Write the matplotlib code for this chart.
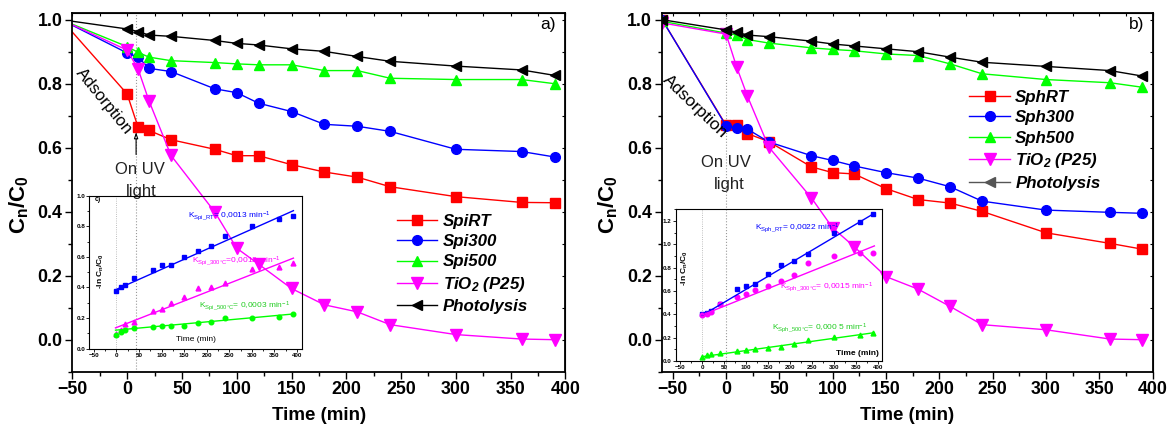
import matplotlib
matplotlib.use("Agg")
import matplotlib.pyplot as plt
from matplotlib.ticker import MultipleLocator

plt.rcParams['font.family'] = ['Liberation Sans', 'DejaVu Sans']
plt.rcParams['mathtext.fontset'] = 'custom'
plt.rcParams['mathtext.rm'] = 'Liberation Sans'
plt.rcParams['mathtext.it'] = 'Liberation Sans:italic'
plt.rcParams['mathtext.bf'] = 'Liberation Sans:bold'

# ---------------- data ----------------
t = [-60, 0, 10, 20, 40, 80, 100, 120, 150, 180, 210, 240, 300, 360, 390]

spi_rt = [1.0, 0.768, 0.664, 0.654, 0.625, 0.595, 0.575, 0.575, 0.547, 0.524, 0.508, 0.478, 0.447, 0.429, 0.428]
spi300 = [1.0, 0.896, 0.883, 0.848, 0.838, 0.784, 0.772, 0.739, 0.713, 0.673, 0.667, 0.651, 0.595, 0.588, 0.571]
spi500 = [1.0, 0.916, 0.898, 0.883, 0.872, 0.866, 0.862, 0.859, 0.859, 0.841, 0.841, 0.817, 0.813, 0.813, 0.800]
tio2_a = [1.0, 0.905, 0.846, 0.746, 0.576, 0.399, 0.286, 0.236, 0.160, 0.109, 0.087, 0.047, 0.016, 0.002, 0.0]
photo_a = [1.0, 0.971, 0.963, 0.952, 0.948, 0.935, 0.926, 0.921, 0.909, 0.901, 0.885, 0.870, 0.855, 0.843, 0.826]

sph_rt = [1.0, 0.670, 0.670, 0.644, 0.619, 0.540, 0.522, 0.518, 0.472, 0.438, 0.427, 0.401, 0.334, 0.301, 0.283]
sph300 = [1.0, 0.668, 0.662, 0.658, 0.618, 0.575, 0.560, 0.543, 0.522, 0.505, 0.478, 0.433, 0.405, 0.398, 0.395]
sph500 = [0.995, 0.958, 0.952, 0.938, 0.927, 0.912, 0.907, 0.903, 0.893, 0.888, 0.862, 0.831, 0.813, 0.803, 0.789]
tio2_b = [0.99, 0.955, 0.851, 0.761, 0.602, 0.443, 0.349, 0.291, 0.197, 0.158, 0.104, 0.047, 0.031, 0.002, 0.0]
photo_b = [1.0, 0.968, 0.961, 0.952, 0.947, 0.933, 0.924, 0.918, 0.909, 0.900, 0.883, 0.867, 0.854, 0.841, 0.824]

labels_a = ['SpiRT', 'Spi300', 'Spi500', r'TiO$_\mathregular{2}$ (P25)', 'Photolysis']
labels_b = ['SphRT', 'Sph300', 'Sph500', r'TiO$_\mathregular{2}$ (P25)', 'Photolysis']

# inset kinetics  (-ln Cn/C0)
ti = [0, 10, 20, 40, 80, 100, 120, 150, 180, 210, 240, 300, 360, 390]
ln_spi_rt = [0.378, 0.406, 0.417, 0.465, 0.512, 0.549, 0.549, 0.599, 0.638, 0.672, 0.735, 0.802, 0.846, 0.870]
ln_spi300 = [0.093, 0.121, 0.162, 0.175, 0.244, 0.259, 0.298, 0.335, 0.396, 0.404, 0.428, 0.519, 0.532, 0.562]
ln_spi500 = [0.089, 0.110, 0.123, 0.136, 0.145, 0.149, 0.149, 0.151, 0.169, 0.173, 0.201, 0.203, 0.205, 0.225]
fit_t_a = [-2, 392]
fit_spi_rt = [0.385, 0.902]
fit_spi300 = [0.136, 0.592]
fit_spi500 = [0.121, 0.227]

ln_sph_rt = [0.400, 0.409, 0.429, 0.486, 0.614, 0.646, 0.657, 0.746, 0.820, 0.854, 0.914, 1.094, 1.194, 1.257]
ln_sph300 = [0.394, 0.403, 0.420, 0.486, 0.551, 0.574, 0.609, 0.646, 0.683, 0.734, 0.837, 0.900, 0.923, 0.929]
ln_sph500 = [0.037, 0.049, 0.060, 0.071, 0.089, 0.094, 0.103, 0.114, 0.123, 0.146, 0.180, 0.209, 0.220, 0.237]
fit_t_b = [0, 392]
fit_sph_rt = [0.391, 1.266]
fit_sph300 = [0.394, 0.986]
fit_sph500 = [0.037, 0.243]

k_a = [r'K$_\mathregular{Spi\_RT}$= 0,0013 min$^\mathregular{-1}$',
       r'K$_\mathregular{Spi\_300°C}$=0,0012 min$^\mathregular{-1}$',
       r'K$_\mathregular{Spi\_500°C}$= 0,0003 min$^\mathregular{-1}$']
k_b = [r'K$_\mathregular{Sph\_RT}$= 0,0022 min$^\mathregular{-1}$',
       r'K$_\mathregular{Sph\_300°C}$= 0,0015 min$^\mathregular{-1}$',
       r'K$_\mathregular{Sph\_500°C}$= 0,000 5 min$^\mathregular{-1}$']

RED, BLUE, GREEN, MAG, BLK = '#ff0000', '#0000ff', '#00ff00', '#ff00ff', '#000000'

fig = plt.figure(figsize=(11.72, 4.36), dpi=100)
axA = fig.add_axes([0.0617, 0.1475, 0.4208, 0.822])
axB = fig.add_axes([0.5645, 0.1475, 0.4190, 0.822])


def style_main(ax, xlim):
    ax.set_xlim(*xlim)
    ax.set_ylim(-0.1, 1.02)
    ax.set_xticks(range(-50, 401, 50))
    ax.set_yticks([0.0, 0.2, 0.4, 0.6, 0.8, 1.0])
    ax.set_yticklabels(['0.0', '0.2', '0.4', '0.6', '0.8', '1.0'])
    ax.xaxis.set_minor_locator(MultipleLocator(25))
    ax.yaxis.set_minor_locator(MultipleLocator(0.1))
    ax.tick_params(which='major', direction='out', length=5, width=1.0, labelsize=12.8, pad=2)
    ax.tick_params(which='minor', direction='out', length=3, width=1.0)
    for lab in ax.get_xticklabels() + ax.get_yticklabels():
        lab.set_fontweight('bold')
    for s in ax.spines.values():
        s.set_linewidth(1.3)
    sx = ax.secondary_xaxis('top')
    sx.set_xticks(range(-50, 401, 25))
    sx.tick_params(direction='in', length=2.5, width=0.8, labeltop=False)
    sy = ax.secondary_yaxis('right')
    sy.set_yticks([i / 10 for i in range(0, 11)])
    sy.tick_params(direction='in', length=2.5, width=0.8, labelright=False)
    ax.set_xlabel('Time (min)', fontsize=13.5, fontweight='bold', labelpad=6)
    ax.set_ylabel(r'C$_\mathregular{n}$/C$_\mathregular{0}$', fontsize=16, fontweight='bold', labelpad=5)
    ax.yaxis.label.set_y(0.465)


def plot_series(ax, ys, labels, colors, markers, sizes, markevery):
    for y, lab, c, m, ms in zip(ys, labels, colors, markers, sizes):
        ax.plot(t, y, color=c, marker=m, markersize=ms, lw=1.0, label=lab,
                markevery=markevery, clip_on=True)


colors = [RED, BLUE, GREEN, MAG, BLK]
markers = ['s', 'o', '^', 'v', '<']
sizes = [6.5, 7, 7.5, 8, 7.5]

plot_series(axA, [spi_rt, spi300, spi500, tio2_a, photo_a], labels_a, colors, markers, sizes,
            list(range(1, len(t))))
plot_series(axB, [sph_rt, sph300, sph500, tio2_b, photo_b], labels_b, colors, markers, sizes, None)

style_main(axA, (-50, 400))
style_main(axB, (-60.5, 400))

# dotted UV-on lines
axA.axvline(8.2, color='#999999', lw=0.8, ls=':', zorder=1)
axB.axvline(0, color='#999999', lw=0.8, ls=':', zorder=1)

# arrow left panel
axA.annotate('', xy=(8.2, 0.657), xytext=(8.2, 0.57),
             arrowprops=dict(arrowstyle='-|>,head_width=0.12,head_length=0.35',
                             fc='white', ec='black', lw=0.8))

txt_kw = dict(fontsize=12, color='#222222', ha='center', va='center')
axA.text(12, 0.532, 'On UV', **txt_kw)
axA.text(12.5, 0.462, 'light', **txt_kw)
axB.text(0, 0.553, 'On UV', **txt_kw)
axB.text(2.5, 0.485, 'light', **txt_kw)
axA.text(-21, 0.745, 'Adsorption', fontsize=12, rotation=-51, ha='center', va='center',
         rotation_mode='anchor')
axB.text(-29, 0.728, 'Adsorption', fontsize=12.5, rotation=-44, ha='center', va='center',
         rotation_mode='anchor')
axA.text(384, 0.984, 'a)', fontsize=12.5, ha='center', va='center')
axB.text(385, 0.986, 'b)', fontsize=12.5, ha='center', va='center')

leg_kw = dict(loc='upper left', frameon=False, borderpad=0, borderaxespad=0,
              handlelength=2.4, handletextpad=0.3, labelspacing=0.32,
              prop={'size': 12.2, 'weight': 'bold', 'style': 'italic'})
legA = axA.legend(bbox_to_anchor=(0.658, 0.441), **leg_kw)
legB = axB.legend(bbox_to_anchor=(0.627, 0.786), **leg_kw)
legB.get_lines()[4].set_color('#555555')

# ---------------- insets ----------------
insA = fig.add_axes([0.0762, 0.2002, 0.1811, 0.351])
insB = fig.add_axes([0.5766, 0.1720, 0.1762, 0.348])


def style_inset(ax, ylim, yticks):
    ax.set_facecolor('none')
    ax.set_xlim(-60, 410)
    ax.set_ylim(*ylim)
    ax.set_xticks(range(-50, 401, 50))
    ax.set_yticks(yticks)
    ax.set_yticklabels(['%.1f' % v for v in yticks])
    ax.xaxis.set_minor_locator(MultipleLocator(25))
    ax.yaxis.set_minor_locator(MultipleLocator(0.1))
    ax.tick_params(which='major', direction='out', length=2, width=0.6, labelsize=4.5, pad=1)
    ax.tick_params(which='minor', direction='out', length=1.2, width=0.6)
    for lab in ax.get_xticklabels() + ax.get_yticklabels():
        lab.set_fontweight('bold')
    for s in ax.spines.values():
        s.set_linewidth(0.8)
    ax.axvline(0, color='#aaaaaa', lw=0.6, ls=':')


style_inset(insA, (0, 1.0), [0.0, 0.2, 0.4, 0.6, 0.8, 1.0])
style_inset(insB, (0, 1.3), [0.0, 0.2, 0.4, 0.6, 0.8, 1.0, 1.2])

insA.plot(ti, ln_spi_rt, ls='none', marker='s', ms=3, color=BLUE)
insA.plot(ti, ln_spi300, ls='none', marker='^', ms=3.5, color=MAG)
insA.plot(ti, ln_spi500, ls='none', marker='o', ms=3.3, color=GREEN)
insA.plot(fit_t_a, fit_spi_rt, color=BLUE, lw=1.0)
insA.plot(fit_t_a, fit_spi300, color=MAG, lw=1.0)
insA.plot(fit_t_a, fit_spi500, color=GREEN, lw=1.0)
insA.text(159, 0.863, k_a[0], fontsize=6, color=BLUE, ha='left', va='center')
insA.text(167, 0.569, k_a[1], fontsize=6, color=MAG, ha='left', va='center')
insA.text(184, 0.274, k_a[2], fontsize=6, color='#22cc22', ha='left', va='center')
insA.text(177, 0.057, 'Time (min)', fontsize=6, ha='center', va='center')
insA.text(-42, 0.976, 'c)', fontsize=5, fontweight='bold', ha='center', va='center')
insA.text(-34, 0.51, r'-ln C$_\mathregular{n}$/C$_\mathregular{0}$', fontsize=6, rotation=90,
          ha='center', va='center', fontweight='bold')

insB.plot(ti, ln_sph_rt, ls='none', marker='s', ms=3, color=BLUE)
insB.plot(ti, ln_sph300, ls='none', marker='o', ms=3.3, color=MAG)
insB.plot(ti, ln_sph500, ls='none', marker='^', ms=3.5, color=GREEN)
insB.plot(fit_t_b, fit_sph_rt, color=BLUE, lw=1.0)
insB.plot(fit_t_b, fit_sph300, color=MAG, lw=1.0)
insB.plot(fit_t_b, fit_sph500, color=GREEN, lw=1.0)
insB.text(120, 1.137, k_b[0], fontsize=6, color=BLUE, ha='left', va='center')
insB.text(178, 0.631, k_b[1], fontsize=6, color=MAG, ha='left', va='center')
insB.text(159, 0.28, k_b[2], fontsize=6, color='#22cc22', ha='left', va='center')
insB.text(402, 0.066, 'Time (min)', fontsize=6, ha='right', va='center', fontweight='bold')
insB.text(-40, 0.795, r'-ln C$_\mathregular{n}$/C$_\mathregular{0}$', fontsize=6, rotation=90,
          ha='center', va='center', fontweight='bold')

fig.savefig('out.png', dpi=100)
